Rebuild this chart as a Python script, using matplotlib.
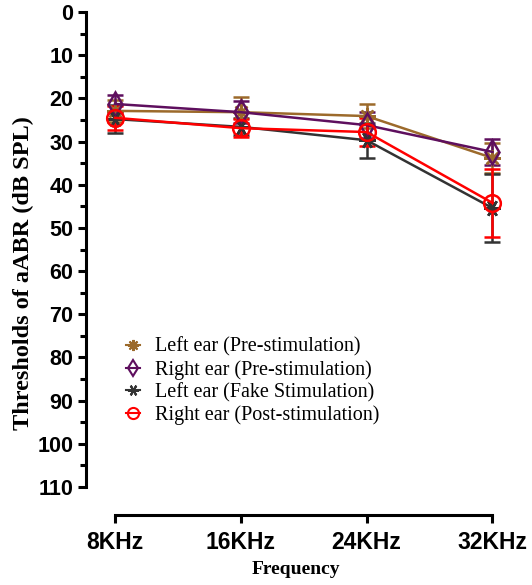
import matplotlib.pyplot as plt
from matplotlib.lines import Line2D
from matplotlib.ticker import MultipleLocator

# --------------------------------------------------
# Data
# --------------------------------------------------
freqs = ["8KHz", "16KHz", "24KHz", "32KHz"]

left_pre = [22.9, 23.2, 24.1, 33.8]
left_pre_err = [2.5, 3.5, 2.8, 3.5]

right_pre = [21.3, 23.2, 26.2, 32.4]
right_pre_err = [2.1, 2.5, 3.0, 3.0]

left_fake = [24.8, 26.6, 29.7, 45.4]
left_fake_err = [3.2, 2.0, 4.0, 7.9]

right_post = [24.5, 26.9, 27.8, 44.2]
right_post_err = [2.8, 2.1, 3.2, 7.9]

labels = ["Left ear (Pre-stimulation)", "Right ear (Pre-stimulation)",
          "Left ear (Fake Stimulation)", "Right ear (Post-stimulation)"]

series = [
    (left_pre, left_pre_err, "#9C6A2B", (8, 2, 0)),
    (right_pre, right_pre_err, "#5E0F5E", "d"),
    (left_fake, left_fake_err, "#333333", (6, 2, 90)),
    (right_post, right_post_err, "#FF0000", "o"),
]

# --------------------------------------------------
# Plot
# --------------------------------------------------
fig = plt.figure(figsize=(5.32, 5.85), dpi=100)
ax = fig.add_axes([0.1617, 0.1675, 0.7876, 0.812])

x = list(range(len(freqs)))
handles = []
for (vals, errs, col, mk), lab in zip(series, labels):
    ax.errorbar(x, vals, yerr=errs, color=col, marker=mk, markersize=12,
                markerfacecolor="none", markeredgecolor=col, markeredgewidth=1.8,
                linewidth=1.8, elinewidth=1.8, capsize=6, capthick=2)
    handles.append(Line2D([], [], color=col, marker=mk, markersize=8,
                          markerfacecolor="none", markeredgewidth=1.5,
                          linewidth=1.5, label=lab))

ax.set_ylim(110, 0)
ax.set_xlim(-0.23, 3.1)
ax.yaxis.set_major_locator(MultipleLocator(10))
ax.yaxis.set_minor_locator(MultipleLocator(5))
ax.set_xticks(x)
ax.set_xticklabels(freqs)

ax.spines["top"].set_visible(False)
ax.spines["right"].set_visible(False)
ax.spines["left"].set_linewidth(2.2)
ax.spines["bottom"].set_linewidth(2.2)
ax.spines["bottom"].set_position(("outward", 20))
ax.spines["bottom"].set_bounds(0, 3)
ax.spines["left"].set_bounds(0, 110)

ax.tick_params(axis="both", which="major", width=2.2, length=6)
ax.tick_params(axis="x", which="major", pad=6)
ax.tick_params(axis="y", which="major", pad=3)
ax.tick_params(axis="y", which="minor", width=2.2, length=4)
for lbl in ax.get_xticklabels():
    lbl.set_fontfamily("Liberation Sans")
    lbl.set_fontweight("bold")
    lbl.set_fontsize(16.5)
for lbl in ax.get_yticklabels():
    lbl.set_fontfamily("Liberation Sans")
    lbl.set_fontweight("bold")
    lbl.set_fontsize(15.5)

ax.set_xlabel("Frequency", fontfamily="Liberation Serif", fontweight="bold",
              fontsize=14, labelpad=5)
ax.set_ylabel("Thresholds of aABR (dB SPL)", fontfamily="Liberation Serif",
              fontweight="bold", fontsize=17.5)
ax.yaxis.set_label_coords(-0.125, 0.45)

ax.legend(handles=handles, loc="upper left", bbox_to_anchor=(0.095, 0.315),
          frameon=False, prop={"family": "Liberation Serif", "size": 14.5},
          handlelength=0.7, handletextpad=0.75, labelspacing=0.15,
          borderaxespad=0, borderpad=0)

fig.savefig("out.png", dpi=100)
